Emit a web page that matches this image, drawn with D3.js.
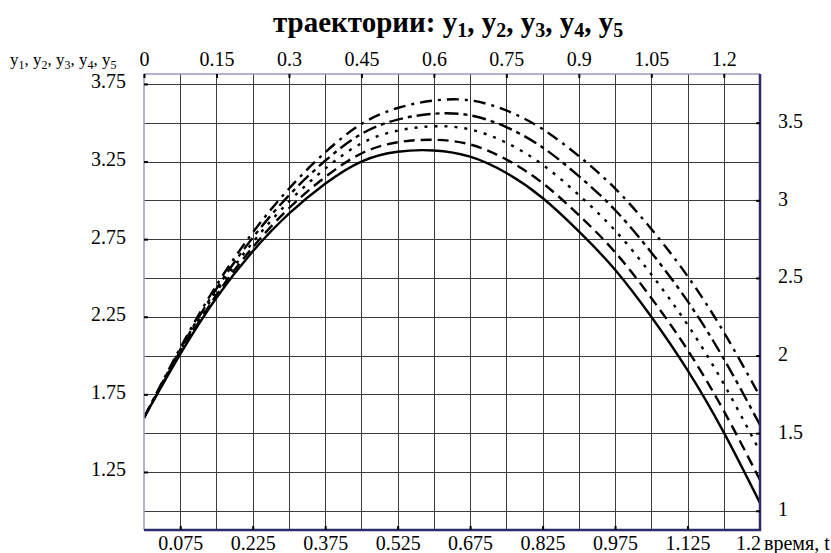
<!DOCTYPE html>
<html><head><meta charset="utf-8">
<script src="https://cdn.jsdelivr.net/npm/d3@7"></script>
<style>
html,body{margin:0;padding:0;background:#fff;}
svg{display:block;}
svg text{font-family:"Liberation Serif","Times New Roman",serif !important;}
</style></head>
<body><svg id="chart" width="831" height="553"></svg>
<script>
// ---- data ----
const times = [0, 0.075, 0.15, 0.225, 0.3, 0.375, 0.45, 0.525, 0.6, 0.675, 0.75, 0.825, 0.9, 0.975, 1.05, 1.125, 1.2, 1.275];
const y1 = [1.6, 2.009, 2.372, 2.671, 2.914, 3.107, 3.250, 3.313, 3.321, 3.281, 3.176, 3.015, 2.800, 2.553, 2.250, 1.906, 1.505, 1.050];
const y2 = [1.6, 2.017, 2.390, 2.697, 2.949, 3.150, 3.302, 3.374, 3.390, 3.360, 3.263, 3.111, 2.905, 2.666, 2.371, 2.037, 1.644, 1.198];
const y3 = [1.6, 2.028, 2.411, 2.729, 2.992, 3.204, 3.367, 3.449, 3.477, 3.457, 3.371, 3.230, 3.034, 2.806, 2.523, 2.199, 1.817, 1.381];
const y4 = [1.6, 2.038, 2.431, 2.759, 3.032, 3.255, 3.428, 3.520, 3.558, 3.548, 3.472, 3.341, 3.156, 2.938, 2.664, 2.351, 1.979, 1.553];
const y5 = [1.6, 2.049, 2.453, 2.792, 3.075, 3.309, 3.492, 3.595, 3.643, 3.644, 3.579, 3.459, 3.285, 3.077, 2.815, 2.512, 2.151, 1.736];
const seriesNames = ["y1", "y2", "y3", "y4", "y5"];
const topTicks = [0, 0.15, 0.3, 0.45, 0.6, 0.75, 0.9, 1.05, 1.2];
const bottomTicks = [0.075, 0.225, 0.375, 0.525, 0.675, 0.825, 0.975, 1.125];
const leftTicks = [3.75, 3.25, 2.75, 2.25, 1.75, 1.25];
const rightTicks = [3.5, 3, 2.5, 2, 1.5, 1];
const xGrid = [0.075, 0.15, 0.225, 0.3, 0.375, 0.45, 0.525, 0.6, 0.675, 0.75, 0.825, 0.9, 0.975, 1.05, 1.125, 1.2];
const yGrid = [1, 1.25, 1.5, 1.75, 2, 2.25, 2.5, 2.75, 3, 3.25, 3.5, 3.75];
const xDomain = [0, 1.275];
const yDomain = [0.876, 3.814];
const titleText = "траектории: ";
const xAxisTitle = "время, t";
const lastBottomLabel = "1.2";

// ---- layout ----
const svg = d3.select("#chart");
const L = 144, R = 760, T = 74, B = 530;
const x = d3.scaleLinear().domain(xDomain).range([L, R]);
const y = d3.scaleLinear().domain(yDomain).range([B, T]);
const FONT = "20px";
const SERIF = "'Liberation Serif','Times New Roman',serif";

// grid
const gV = svg.append("g").attr("transform", `translate(0,${B})`)
  .call(d3.axisBottom(x).tickValues(xGrid).tickSize(-(B - T)).tickFormat(""));
const gH = svg.append("g").attr("transform", `translate(${L},0)`)
  .call(d3.axisLeft(y).tickValues(yGrid).tickSize(-(R - L)).tickFormat(""));
[gV, gH].forEach(g => {
  g.select(".domain").remove();
  g.selectAll("line").attr("stroke", "#3c3c3c").attr("stroke-width", 1).attr("shape-rendering", "crispEdges");
});

// curves
const styles = [
  {dash: null},
  {dash: "11,6"},
  {dash: "3,7"},
  {dash: "14,5,4,5"},
  {dash: "12,6,3,6"}
];
svg.append("clipPath").attr("id", "clip").append("rect")
  .attr("x", L).attr("y", T).attr("width", R - L).attr("height", B - T);
const line = d3.line().x(d => x(d[0])).y(d => y(d[1])).curve(d3.curveNatural);
const allSeries = [y1, y2, y3, y4, y5];
const gc = svg.append("g").attr("clip-path", "url(#clip)");
allSeries.forEach((s, i) => {
  gc.append("path")
    .datum(times.map((t, j) => [t, s[j]]))
    .attr("class", "series " + seriesNames[i])
    .attr("fill", "none")
    .attr("stroke", "#000")
    .attr("stroke-width", 2.4)
    .attr("stroke-dasharray", styles[i].dash)
    .attr("d", line);
});

// borders
svg.append("line").attr("x1", L).attr("x2", R).attr("y1", T).attr("y2", T)
  .attr("stroke", "#9a98c4").attr("stroke-width", 1.5);
svg.append("line").attr("x1", L).attr("x2", L).attr("y1", T).attr("y2", B)
  .attr("stroke", "#9a98c4").attr("stroke-width", 1.5);
svg.append("line").attr("x1", R).attr("x2", R).attr("y1", T).attr("y2", B + 1)
  .attr("stroke", "#2c2a6a").attr("stroke-width", 2.5);
svg.append("line").attr("x1", L).attr("x2", R + 1).attr("y1", B).attr("y2", B)
  .attr("stroke", "#2c2a6a").attr("stroke-width", 2.5);

function styleAxis(g) {
  g.attr("font-family", SERIF);
  g.select(".domain").remove();
  g.selectAll("line").attr("stroke", "#000").attr("stroke-width", 2);
  g.selectAll("text").attr("font-size", FONT).attr("fill", "#000")
    .attr("font-family", SERIF);
}
const fmt = d => String(d);

svg.append("g").attr("transform", `translate(0,${T})`)
  .call(d3.axisTop(x).tickValues(topTicks).tickSize(-4).tickPadding(8).tickFormat(fmt))
  .call(styleAxis);
svg.append("g").attr("transform", `translate(0,${B})`)
  .call(d3.axisBottom(x).tickValues(bottomTicks).tickSize(-4).tickPadding(6).tickFormat(fmt))
  .call(styleAxis);
svg.append("g").attr("transform", `translate(${L},0)`)
  .call(d3.axisLeft(y).tickValues(leftTicks).tickSize(-4).tickPadding(18).tickFormat(fmt))
  .call(styleAxis)
  .selectAll("text").attr("dy", "0.2em");
svg.append("g").attr("transform", `translate(${R},0)`)
  .call(d3.axisRight(y).tickValues(rightTicks).tickSize(-4).tickPadding(18).tickFormat(fmt))
  .call(styleAxis)
  .selectAll("text").attr("dy", "0.25em");

// bottom-right label
svg.append("text").attr("x", R + 1).attr("y", 550).attr("text-anchor", "end")
  .attr("font-size", FONT).attr("font-family", SERIF).text(lastBottomLabel);
svg.append("text").attr("x", R + 4).attr("y", 550)
  .attr("font-size", FONT).attr("font-family", SERIF).text(xAxisTitle);

// y axis header with subscripts
const hdr = svg.append("text").attr("x", 10).attr("y", 65).attr("font-size", "17px").attr("font-family", SERIF);
seriesNames.forEach((n, i) => {
  hdr.append("tspan").text("y");
  hdr.append("tspan").attr("font-size", "12px").attr("dy", 4).text(n.slice(1));
  hdr.append("tspan").attr("dy", -4).text(i < seriesNames.length - 1 ? ", " : "");
});

// title
const title = svg.append("text").attr("x", 273).attr("y", 32)
  .attr("font-size", "29px").attr("font-weight", "bold").attr("font-family", SERIF);
title.append("tspan").text(titleText);
seriesNames.forEach((n, i) => {
  title.append("tspan").text("y");
  title.append("tspan").attr("font-size", "20px").attr("dy", 5).text(n.slice(1));
  title.append("tspan").attr("dy", -5).text(i < seriesNames.length - 1 ? ", " : "");
});
</script></body></html>
